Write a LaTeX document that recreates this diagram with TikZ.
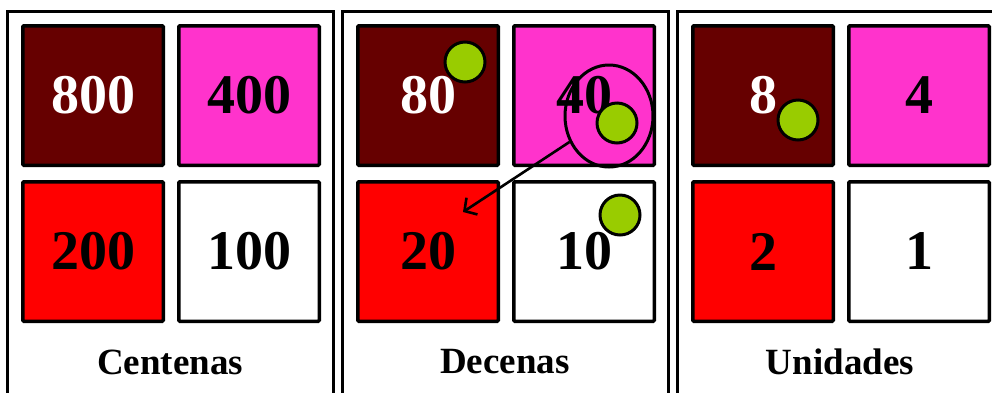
\documentclass[tikz,border=0pt]{standalone}
\usepackage{fontspec}
\setmainfont{Liberation Serif}
\usetikzlibrary{arrows.meta,shapes.geometric}
\definecolor{brownbox}{HTML}{660000}
\definecolor{pinkbox}{HTML}{FF33CC}
\definecolor{redbox}{HTML}{FF0000}
\definecolor{dotgreen}{HTML}{99CC00}

\begin{document}
\begin{tikzpicture}[x=1pt, y=-1pt,
  panel/.style={draw, line width=3pt, minimum width=326pt, minimum height=400pt},
  cell/.style={draw, line width=3.5pt, rounded corners=1pt, minimum width=140.5pt,
    minimum height=139.5pt, font=\fontsize{56}{56}\selectfont\bfseries},
  title/.style={font=\fontsize{37}{37}\selectfont\bfseries},
  dot/.style={circle, draw, line width=3pt, fill=dotgreen, minimum size=40pt, inner sep=0pt},
  ring/.style={ellipse, draw, line width=3pt, minimum width=88pt, minimum height=102pt, inner sep=0pt},
  arrow/.style={-{Straight Barb[length=9pt,width=20pt]}, line width=2.6pt}]
\useasboundingbox (0,0) rectangle (992,392);
\clip (0,0) rectangle (992,392);

% one panel per place value
\foreach \p/\name/\a/\b/\c/\d [count=\i from 0] in
  {cen/Centenas/800/400/200/100, dec/Decenas/80/40/20/10, uni/Unidades/8/4/2/1} {
  \begin{scope}[xshift=\i*335pt]
    \node[panel] (\p) at (170,211) {};
    \node[cell, fill=brownbox, text=white] (\p8) at (93,95.5) {\a};
    \node[cell, fill=pinkbox] (\p4) at (249,95.5) {\b};
    \node[cell, fill=redbox] (\p2) at (93,251.5) {\c};
    \node[cell, fill=white] (\p1) at (249,251.5) {\d};
    \node[title] (\p-name) at (170,362) {\name};
  \end{scope}
}

% counters
\node[dot] (dec8-dot) at (465,62) {};
\node[ring] (dec-ring) at (609,116) {};
\node[dot] (dec4-dot) at (617,123) {};
\node[dot] (dec1-dot) at (620,215) {};
\node[dot] (uni8-dot) at (798,120) {};
\coordinate (dec-tip) at (463,212);
\draw[arrow] (dec-ring) -- (dec-tip);
\end{tikzpicture}
\end{document}
